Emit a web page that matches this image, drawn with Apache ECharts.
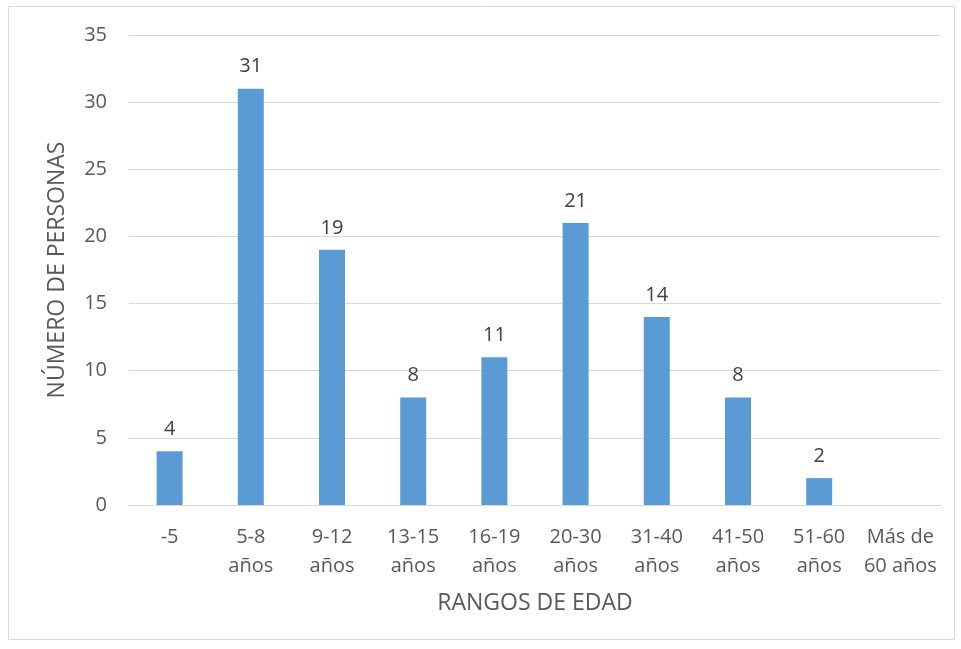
<!DOCTYPE html>
<html>
<head>
<meta charset="utf-8">
<script src="https://cdn.jsdelivr.net/npm/echarts@6/dist/echarts.min.js"></script>
<style>
  html, body { margin: 0; padding: 0; background: #ffffff; }
  #chart { width: 961px; height: 649px; }
</style>
</head>
<body>
<div id="chart"></div>
<script>
// Age ranges and head counts
const categories = ['-5', '5-8\naños', '9-12\naños', '13-15\naños', '16-19\naños', '20-30\naños', '31-40\naños', '41-50\naños', '51-60\naños', 'Más de\n60 años'];
const personas = [4, 31, 19, 8, 11, 21, 14, 8, 2, null];
const yTicks = { min: 0, max: 35, interval: 5 };

const FONT = 'Open Sans';
const TEXT = '#595959';
const FS = 20;        // tick and data labels
const FS_TITLE = 23;  // axis titles

const chart = echarts.init(document.getElementById('chart'), null, { renderer: 'canvas' });
chart.setOption({
  animation: false,
  backgroundColor: '#ffffff',
  textStyle: { fontFamily: FONT },
  graphic: [{
    type: 'rect',
    shape: { x: 8.5, y: 6.5, width: 946, height: 633 },
    style: { fill: 'none', stroke: '#d9d9d9', lineWidth: 1 },
    silent: true
  }],
  grid: { left: 129, right: 20, top: 35, bottom: 144, containLabel: false },
  xAxis: {
    type: 'category',
    data: categories,
    axisLine: { show: true, lineStyle: { color: '#d9d9d9', width: 1 } },
    axisTick: { show: false },
    axisLabel: { color: TEXT, fontSize: FS, fontFamily: FONT, lineHeight: 29, margin: 18, interval: 0 },
    name: 'RANGOS DE EDAD',
    nameLocation: 'middle',
    nameGap: 87,
    nameTextStyle: { color: TEXT, fontSize: FS_TITLE, fontFamily: FONT }
  },
  yAxis: {
    type: 'value',
    min: yTicks.min,
    max: yTicks.max,
    interval: yTicks.interval,
    axisLine: { show: false },
    axisTick: { show: false },
    splitLine: { lineStyle: { color: '#d9d9d9', width: 1 } },
    axisLabel: { color: TEXT, fontSize: FS, fontFamily: FONT, margin: 22 },
    name: 'NÚMERO DE PERSONAS',
    nameLocation: 'middle',
    nameGap: 60,
    nameTextStyle: { color: TEXT, fontSize: FS_TITLE, fontFamily: FONT }
  },
  series: [{
    type: 'bar',
    data: personas,
    barWidth: 26,
    itemStyle: { color: '#5b9bd5' },
    label: {
      show: true,
      position: 'top',
      distance: 12,
      color: '#404040',
      fontSize: FS,
      fontFamily: FONT
    }
  }]
});
</script>
</body>
</html>
